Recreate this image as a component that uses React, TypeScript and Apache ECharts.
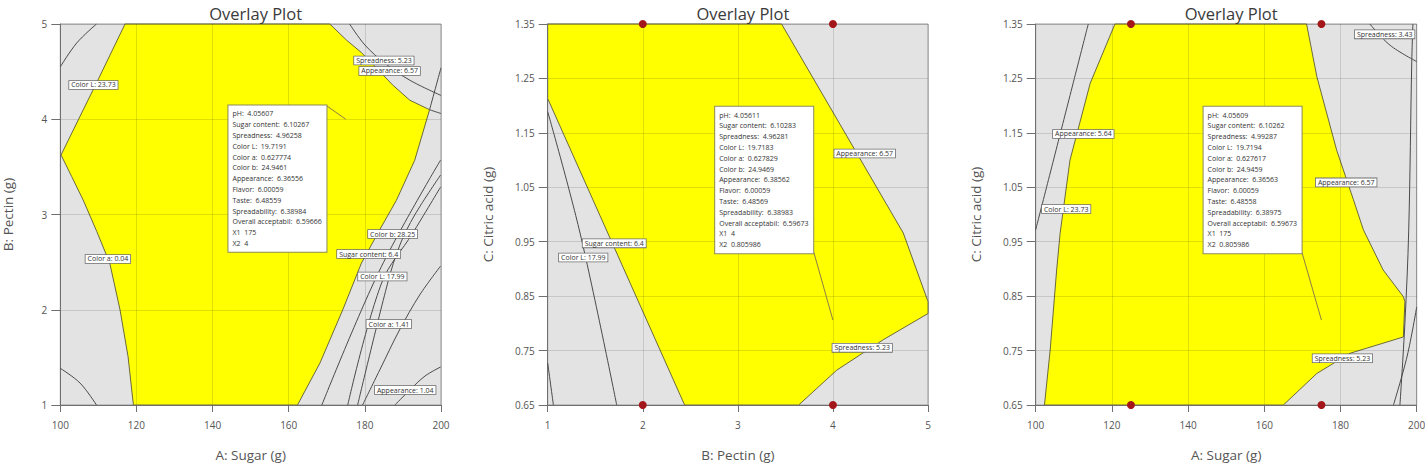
import React, { useEffect, useRef } from "react";
import * as echarts from "echarts";

type Pt = [number, number];
type Lbl = [number, number, string];

// ---------- axis ticks ----------
const sugarTicks = [100, 120, 140, 160, 180, 200];
const pectinTicks = [1, 2, 3, 4, 5];
const citricTicks = [0.65, 0.75, 0.85, 0.95, 1.05, 1.15, 1.25, 1.35];

const titleText = "Overlay Plot";
const sugarName = "A: Sugar (g)";
const pectinName = "B: Pectin (g)";
const citricName = "C: Citric acid (g)";

// ---------- panel 1: A Sugar (x) vs B Pectin (y) ----------
const p1Region: Pt[] = [
  [117.0, 5.0], [170.8, 5.0], [175.2, 4.83], [179.1, 4.7], [183.0, 4.54], [187.3, 4.36],
  [191.8, 4.2], [197.0, 4.1], [193.1, 3.57], [188.3, 3.15], [183.9, 2.84], [179.1, 2.49],
  [174.2, 2.0], [168.2, 1.44], [162.3, 1.0], [119.2, 1.0], [117.8, 1.507], [115.7, 1.997],
  [113.0, 2.488], [109.6, 2.82], [106.0, 3.152], [103.0, 3.397], [100.2, 3.625],
  [104.8, 4.0], [109.5, 4.38],
];
const p1TopLeftArc: Pt[] = [[100, 4.55], [104.3, 4.8], [109.5, 5.0]];
const p1BottomLeftArc: Pt[] = [[100, 1.385], [105.2, 1.23], [109.5, 1.0]];
const p1Spreadness: Pt[] = [[176.0, 5.0], [180.0, 4.78], [185.2, 4.59], [191.8, 4.41], [200, 4.25]];
const p1SugarExt: Pt[] = [[197.0, 4.1], [200, 4.54]];
const p1AppearanceExt: Pt[] = [[197.0, 4.1], [200, 4.06]];
const p1ColorL: Pt[] = [[168.7, 1.0], [183.9, 2.417], [199.9, 3.572]];
const p1ColorB: Pt[] = [[175.5, 1.0], [184.4, 2.281], [192.6, 2.806], [199.9, 3.289]];
const p1Third: Pt[] = [[178.1, 1.0], [186.0, 2.281], [189.2, 2.68], [193.1, 2.995], [199.9, 3.415]];
const p1ColorA: Pt[] = [[179.4, 1.0], [183.9, 1.367], [189.1, 1.787], [194.4, 2.155], [199.9, 2.459]];
const p1AppearanceLow: Pt[] = [[187.9, 1.0], [191.8, 1.157], [195.8, 1.304], [199.9, 1.399]];
const p1Labels: Lbl[] = [
  [185.0, 4.617, "Spreadness: 5.23"],
  [186.5, 4.507, "Appearance: 6.57"],
  [108.7, 4.36, "Color L: 23.73"],
  [112.5, 2.533, "Color a: 0.04"],
  [187.3, 2.795, "Color b: 28.25"],
  [181.0, 2.585, "Sugar content: 6.4"],
  [184.6, 2.349, "Color L: 17.99"],
  [186.3, 1.85, "Color a: 1.41"],
  [190.6, 1.157, "Appearance: 1.04"],
];
const p1Flag = [
  "pH:  4.05607", "Sugar content:  6.10267", "Spreadness:  4.96258", "Color L:  19.7191",
  "Color a:  0.627774", "Color b:  24.9461", "Appearance:  6.36556", "Flavor:  6.00059",
  "Taste:  6.48559", "Spreadability:  6.38984", "Overall acceptabil:  6.59666", "X1  175", "X2  4",
];
const p1FlagPoint: Pt = [175, 4];
const p1FlagBox: Pt = [144.3, 4.14];
const p1FlagCorner: Pt = [170.0, 4.14];
const p1Design: Pt[] = [];

// ---------- panel 2: B Pectin (x) vs C Citric acid (y) ----------
const p2Region: Pt[] = [
  [1, 1.35], [3.46, 1.35], [4.74, 0.966], [5, 0.84], [5, 0.818], [4.53, 0.77],
  [4.04, 0.714], [3.64, 0.65], [2.44, 0.65], [1, 1.213],
];
const p2ColorL: Pt[] = [[1, 1.189], [1.34, 0.966], [1.726, 0.65]];
const p2Short: Pt[] = [[1, 0.727], [1.06, 0.65]];
const p2Labels: Lbl[] = [
  [1.7, 0.947, "Sugar content: 6.4"],
  [1.374, 0.921, "Color L: 17.99"],
  [4.334, 1.112, "Appearance: 6.57"],
  [4.308, 0.755, "Spreadness: 5.23"],
];
const p2Flag = [
  "pH:  4.05611", "Sugar content:  6.10283", "Spreadness:  4.96281", "Color L:  19.7183",
  "Color a:  0.627829", "Color b:  24.9469", "Appearance:  6.38562", "Flavor:  6.00059",
  "Taste:  6.48569", "Spreadability:  6.38983", "Overall acceptabil:  6.59673", "X1  4", "X2  0.805986",
];
const p2FlagPoint: Pt = [4, 0.805986];
const p2FlagBox: Pt = [2.767, 1.197];
const p2FlagCorner: Pt = [3.8, 0.93];
const p2Design: Pt[] = [[2, 1.35], [4, 1.35], [2, 0.65], [4, 0.65]];

// ---------- panel 3: A Sugar (x) vs C Citric acid (y) ----------
const p3Region: Pt[] = [
  [120.8, 1.35], [171.1, 1.35], [173.8, 1.253], [179.0, 1.118], [183.4, 1.027], [186.0, 0.972],
  [191.2, 0.898], [196.5, 0.849], [196.9, 0.84], [196.5, 0.775], [182.5, 0.745], [173.8, 0.708],
  [165.0, 0.65], [102.3, 0.65], [103.8, 0.751], [105.5, 0.898], [106.4, 0.965], [109.0, 1.1],
  [114.3, 1.241],
];
const p3ColorL: Pt[] = [[113.8, 1.35], [106.9, 1.161], [100, 0.972]];
const p3RightA: Pt[] = [[199.0, 1.35], [198.7, 1.28], [197.9, 0.97], [196.9, 0.8], [195.6, 0.65]];
const p3RightB: Pt[] = [[200, 0.83], [197.5, 0.74], [193.9, 0.65]];
const p3Spreadness: Pt[] = [[187.7, 1.35], [193.0, 1.311], [200, 1.281]];
const p3Labels: Lbl[] = [
  [191.6, 1.331, "Spreadness: 3.43"],
  [112.5, 1.148, "Appearance: 5.64"],
  [108.0, 1.01, "Color L: 23.73"],
  [181.5, 1.059, "Appearance: 6.57"],
  [180.5, 0.736, "Spreadness: 5.23"],
];
const p3Flag = [
  "pH:  4.05609", "Sugar content:  6.10262", "Spreadness:  4.99287", "Color L:  19.7194",
  "Color a:  0.627617", "Color b:  24.9459", "Appearance:  6.36563", "Flavor:  6.00059",
  "Taste:  6.48558", "Spreadability:  6.38975", "Overall acceptabil:  6.59673", "X1  175", "X2  0.805986",
];
const p3FlagPoint: Pt = [175, 0.805986];
const p3FlagBox: Pt = [144.2, 1.197];
const p3FlagCorner: Pt = [169.9, 0.93];
const p3Design: Pt[] = [[125, 1.35], [175, 1.35], [125, 0.65], [175, 0.65]];

// ---------- layout ----------
const grids = [
  { left: 60.3, top: 24, width: 380.7, height: 381 },
  { left: 547.7, top: 24, width: 380.3, height: 381 },
  { left: 1035.7, top: 24, width: 381, height: 381 },
];

const FONT = "Open Sans";

function panelSeries(
  idx: number,
  region: Pt[],
  contours: Pt[][],
  labels: Lbl[],
  flag: string[],
  flagBox: Pt,
  flagCorner: Pt,
  flagPoint: Pt,
  design: Pt[]
) {
  const ax = { xAxisIndex: idx, yAxisIndex: idx };
  const s: any[] = [];
  s.push({
    type: "custom",
    ...ax,
    z: 1,
    silent: true,
    data: [region[0]],
    renderItem: (_p: any, api: any) => ({
      type: "polygon",
      shape: { points: region.map((p) => api.coord(p)) },
      style: { fill: "#ffff00", stroke: "#6b6b3c", lineWidth: 1 },
    }),
  });
  contours.forEach((c) =>
    s.push({
      type: "line",
      ...ax,
      z: 3,
      data: c,
      smooth: 0.35,
      symbol: "none",
      silent: true,
      lineStyle: { color: "#4a4a4a", width: 1 },
    })
  );
  s.push({
    type: "line",
    ...ax,
    z: 4,
    data: [flagCorner, flagPoint],
    symbol: "none",
    silent: true,
    lineStyle: { color: "#8c7d46", width: 1 },
  });
  s.push({
    type: "scatter",
    ...ax,
    z: 5,
    symbolSize: 1,
    silent: true,
    clip: false,
    itemStyle: { color: "rgba(0,0,0,0)", opacity: 1 },
    data: labels.map((l) => ({ name: l[2], value: [l[0], l[1]] })),
    label: {
      show: true,
      position: "inside",
      formatter: "{b}",
      fontFamily: FONT,
      fontSize: 7,
      color: "#333",
      opacity: 1,
      backgroundColor: "#ffffff",
      borderColor: "#6d6d6d",
      borderWidth: 0.8,
      padding: [1, 2, 0, 2],
    },
  });
  s.push({
    type: "scatter",
    ...ax,
    z: 6,
    symbolSize: 1,
    silent: true,
    clip: false,
    itemStyle: { color: "rgba(0,0,0,0)", opacity: 1 },
    data: [flagBox],
    label: {
      show: true,
      position: [0, 0],
      align: "left",
      verticalAlign: "top",
      formatter: flag.join("\n"),
      fontFamily: FONT,
      fontSize: 7,
      lineHeight: 10.8,
      color: "#333",
      opacity: 1,
      width: 90,
      backgroundColor: "#ffffff",
      borderColor: "#8a8a5a",
      borderWidth: 1,
      padding: [3, 4, 3, 4],
    },
  });
  if (design.length) {
    s.push({
      type: "scatter",
      ...ax,
      z: 7,
      symbolSize: 8,
      silent: true,
      clip: false,
      itemStyle: { color: "#a3161a", opacity: 1 },
      data: design,
    });
  }
  return s;
}

function axisBase(ticks: number[], name: string, gap: number, fmt: (v: number) => string, isY: boolean) {
  return {
    type: "value",
    min: ticks[0],
    max: ticks[ticks.length - 1],
    interval: +(ticks[1] - ticks[0]).toFixed(4),
    name,
    nameLocation: "middle",
    nameGap: gap,
    nameTextStyle: { color: "#555", fontSize: 13.5, fontFamily: FONT },
    z: 2,
    axisLine: { show: true, onZero: false, lineStyle: { color: "#6f6f6f", width: 1 } },
    axisTick: { show: true, length: isY ? 9 : 7, lineStyle: { color: "#6f6f6f" } },
    axisLabel: { color: "#555", fontSize: 10, fontFamily: FONT, margin: isY ? 13 : 15, formatter: fmt },
    splitLine: { show: true, lineStyle: { color: "rgba(0,0,0,0.12)", width: 1 } },
  };
}

export default function App() {
  const ref = useRef<HTMLDivElement>(null);
  useEffect(() => {
    if (!ref.current) return;
    const chart = echarts.init(ref.current, undefined, { renderer: "svg" });
    const intFmt = (v: number) => String(Math.round(v));
    const citFmt = (v: number) => v.toFixed(2);
    const option: any = {
      animation: false,
      backgroundColor: "#ffffff",
      textStyle: { fontFamily: FONT },
      title: grids.map((g) => ({
        text: titleText,
        left: g.left + g.width / 2,
        top: 0,
        textAlign: "center",
        textStyle: { fontFamily: FONT, fontSize: 16.5, fontWeight: "normal", color: "#3a3a3a" },
      })),
      grid: grids.map((g) => ({
        ...g,
        show: true,
        backgroundColor: "#e3e3e3",
        borderColor: "#9a9a9a",
        borderWidth: 1,
        containLabel: false,
        outerBoundsMode: "none",
      })),
      xAxis: [
        { ...axisBase(sugarTicks, sugarName, 43, intFmt, false), gridIndex: 0 },
        { ...axisBase(pectinTicks, pectinName, 43, intFmt, false), gridIndex: 1 },
        { ...axisBase(sugarTicks, sugarName, 43, intFmt, false), gridIndex: 2 },
      ],
      yAxis: [
        { ...axisBase(pectinTicks, pectinName, 45, intFmt, true), gridIndex: 0 },
        { ...axisBase(citricTicks, citricName, 53, citFmt, true), gridIndex: 1 },
        { ...axisBase(citricTicks, citricName, 53, citFmt, true), gridIndex: 2 },
      ],
      series: [
        ...panelSeries(
          0,
          p1Region,
          [p1TopLeftArc, p1BottomLeftArc, p1Spreadness, p1SugarExt, p1AppearanceExt, p1ColorL, p1ColorB, p1Third, p1ColorA, p1AppearanceLow],
          p1Labels,
          p1Flag,
          p1FlagBox,
          p1FlagCorner,
          p1FlagPoint,
          p1Design
        ),
        ...panelSeries(1, p2Region, [p2ColorL, p2Short], p2Labels, p2Flag, p2FlagBox, p2FlagCorner, p2FlagPoint, p2Design),
        ...panelSeries(
          2,
          p3Region,
          [p3ColorL, p3RightA, p3RightB, p3Spreadness],
          p3Labels,
          p3Flag,
          p3FlagBox,
          p3FlagCorner,
          p3FlagPoint,
          p3Design
        ),
      ],
    };
    chart.setOption(option);
    return () => chart.dispose();
  }, []);
  return (
    <div
      ref={ref}
      style={{ position: "fixed", left: 0, top: 0, width: 1425, height: 465, background: "#fff" }}
    />
  );
}
